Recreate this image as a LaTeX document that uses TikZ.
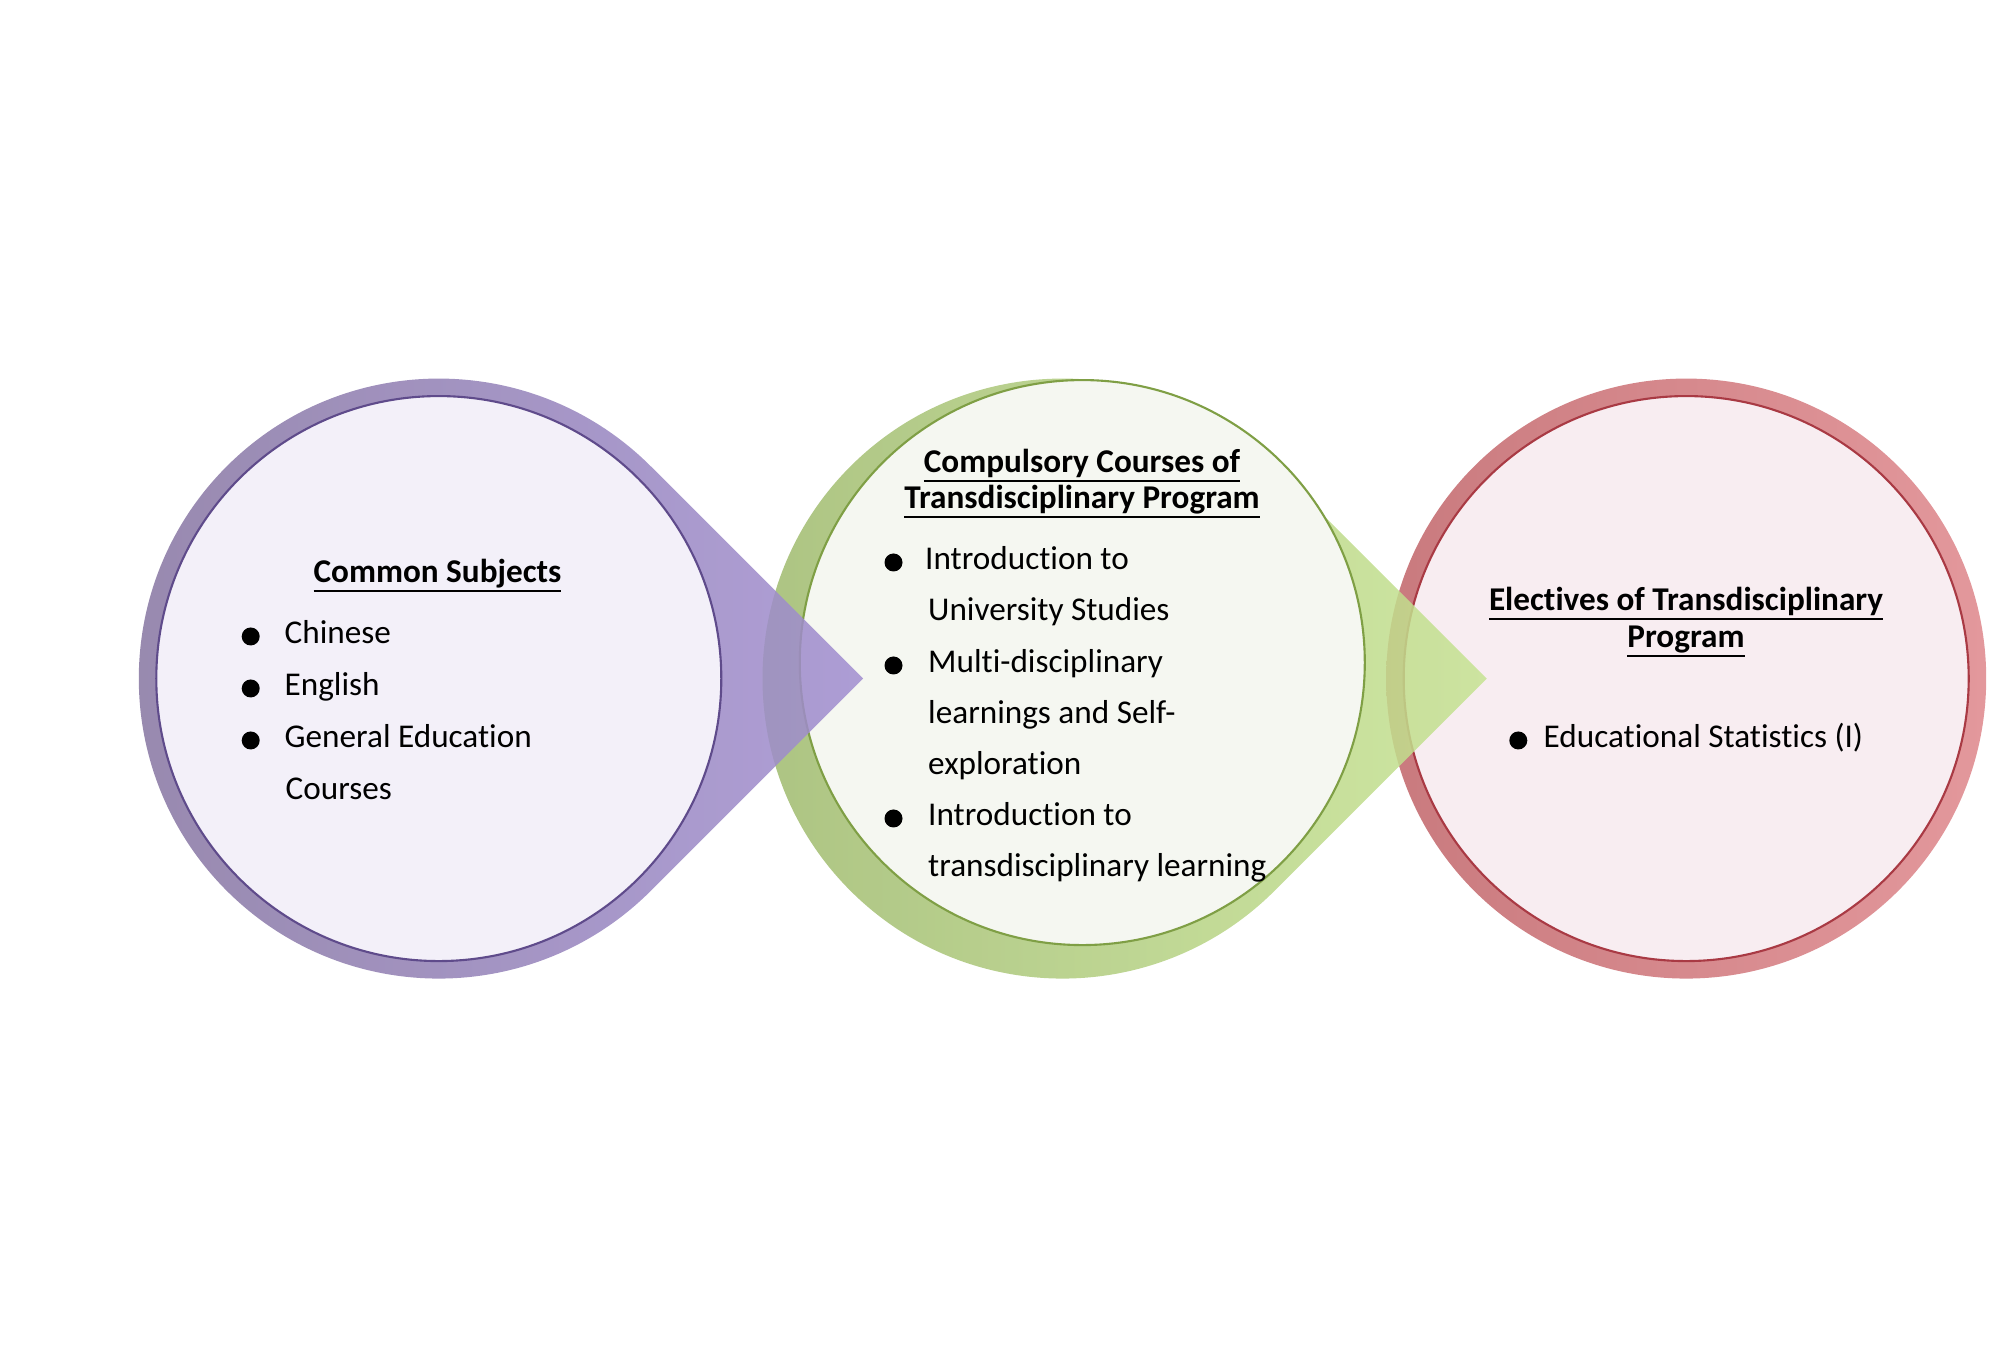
\documentclass[tikz,border=0pt]{standalone}
\usepackage{fontspec}
\setmainfont{Carlito}[Ligatures={NoCommon}]
\usetikzlibrary{positioning}
\definecolor{comdark}{HTML}{85749F}
\definecolor{comlight}{HTML}{A18ED0}
\definecolor{comfill}{HTML}{F3F0F9}
\definecolor{comedge}{HTML}{5F4B8B}
\definecolor{cpldark}{HTML}{9DB86C}
\definecolor{cpllight}{HTML}{C6E392}
\definecolor{cplfill}{HTML}{F5F7F1}
\definecolor{cpledge}{HTML}{7F9F45}
\definecolor{eledark}{HTML}{C97A7E}
\definecolor{elelight}{HTML}{E3989C}
\definecolor{elefill}{HTML}{F8EDF1}
\definecolor{eleedge}{HTML}{A93A44}
\newsavebox{\hdbox}
\newcommand{\hdline}[1]{\sbox\hdbox{#1}\rlap{\rule[-2.65pt]{\wd\hdbox}{0.6pt}}\usebox\hdbox}

\begin{document}
\begin{tikzpicture}[
  every node/.style={font=\fontsize{9.45}{11}\selectfont, inner sep=0pt},
  head/.style={font=\fontsize{9.45}{11}\selectfont\bfseries, anchor=base},
  item/.style={anchor=base west},
  dot/.style={circle, fill=black, minimum size=1.8mm, inner sep=0pt},
  inner/.style={line width=0.6pt}
]
\useasboundingbox (0,0) rectangle (20,13.58);
% electives circle (no arrow)
\coordinate (elec) at (16.862,6.794);
\path[left color=eledark, right color=elelight] (elec) circle (3);
\draw[inner, fill=elefill, draw=eleedge] (elec) circle (2.825);
% compulsory drop with arrow
\coordinate (cplc) at (10.625,6.794);
\path[left color=cpldark, right color=cpllight, fill opacity=.85]
  (cplc) ++(45:3) arc[start angle=45, end angle=315, radius=3] -- ++(45:3) -- cycle;
\draw[inner, fill=cplfill, draw=cpledge] (10.823,6.954) circle (2.825);
% common subjects drop with arrow
\coordinate (comc) at (4.388,6.794);
\path[left color=comdark, right color=comlight, fill opacity=.85]
  (comc) ++(45:3) arc[start angle=45, end angle=315, radius=3] -- ++(45:3) -- cycle;
\draw[inner, fill=comfill, draw=comedge] (comc) circle (2.825);

% common subjects text
\node[head] (comhead) at (4.375,7.755) {\hdline{Common Subjects}};
\node[dot] (comdot1) at (2.507,7.215) {};
\node[dot] (comdot2) at (2.507,6.695) {};
\node[dot] (comdot3) at (2.507,6.175) {};
\node[item] (chinese) at (2.84,7.145) {Chinese};
\node[item] (english) at (2.84,6.625) {English};
\node[item] (genedu) at (2.84,6.105) {General Education};
\node[item] (genedu2) at (2.85,5.585) {Courses};

% compulsory courses text
\node[head] (cplhead1) at (10.82,8.855) {\hdline{Compulsory Courses of}};
\node[head] (cplhead2) at (10.82,8.495) {\hdline{Transdisciplinary Program}};
\node[dot] (cpldot1) at (8.935,7.955) {};
\node[dot] (cpldot2) at (8.935,6.925) {};
\node[dot] (cpldot3) at (8.935,5.395) {};
\node[item] (intro) at (9.245,7.885) {Introduction to};
\node[item] (intro2) at (9.275,7.375) {University Studies};
\node[item] (multi) at (9.275,6.855) {Multi-disciplinary};
\node[item] (multi2) at (9.275,6.345) {learnings and Self-};
\node[item] (multi3) at (9.275,5.835) {exploration};
\node[item] (trans) at (9.275,5.325) {Introduction to};
\node[item] (trans2) at (9.275,4.815) {transdisciplinary learning};

% electives text
\node[head] (elehead1) at (16.86,7.475) {\hdline{Electives of Transdisciplinary}};
\node[head] (elehead2) at (16.86,7.105) {\hdline{Program}};
\node[dot] (eledot) at (15.183,6.175) {};
\node[item] (stats) at (15.43,6.105) {Educational Statistics (I)};
\end{tikzpicture}
\end{document}
